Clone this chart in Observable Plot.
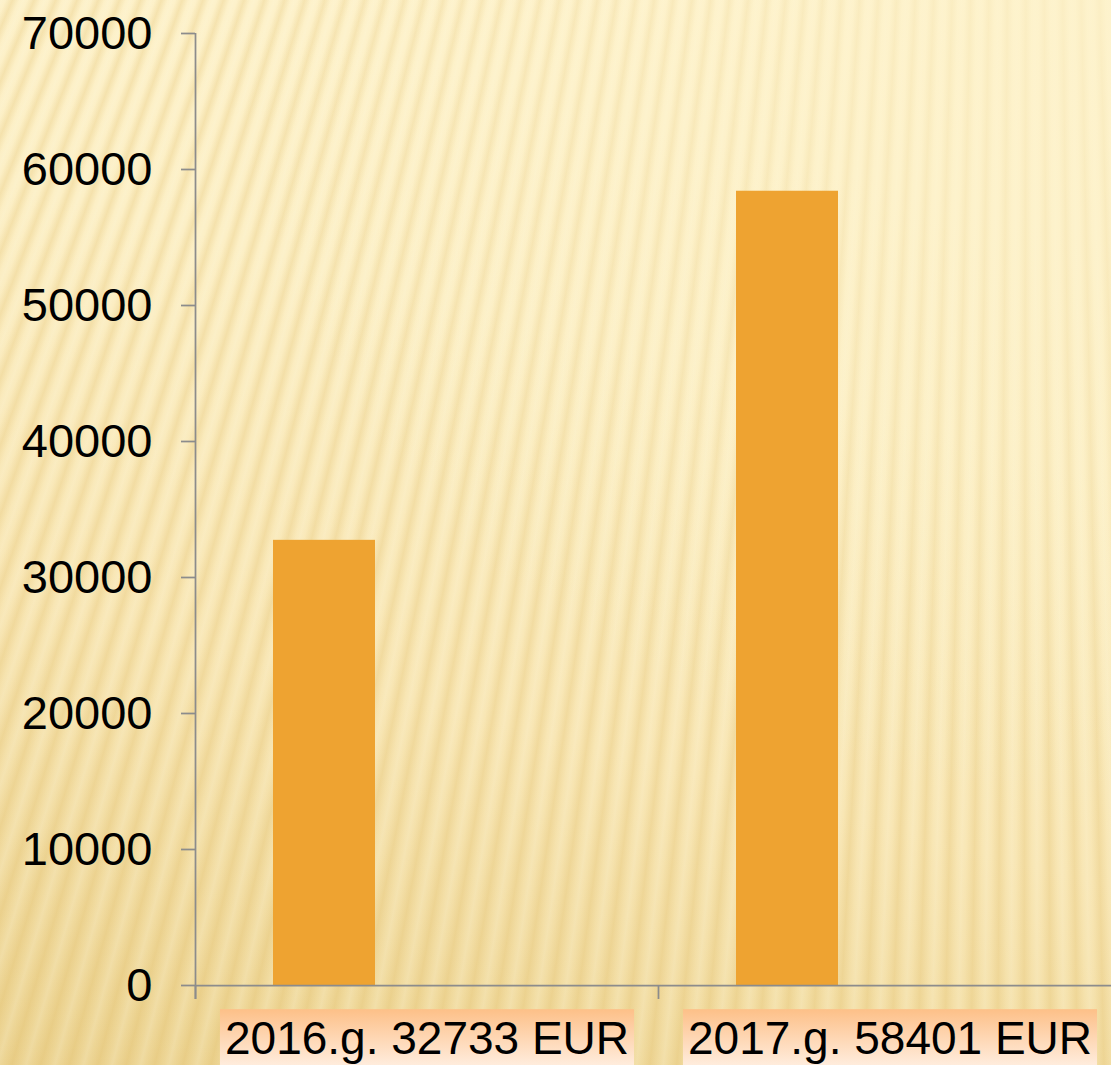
<!DOCTYPE html>
<html><head><meta charset="utf-8">
<script src="https://cdn.jsdelivr.net/npm/d3@7"></script>
<script src="https://cdn.jsdelivr.net/npm/@observablehq/plot@0.6"></script>
<style>
html,body{margin:0;padding:0;width:1111px;height:1065px;overflow:hidden;}
body{
  background:
    radial-gradient(ellipse 900px 800px at 100% 0%, rgba(253,242,203,0.75) 0%, rgba(253,242,203,0) 100%),
    repeating-conic-gradient(from 0deg at 1030px -2400px,
      rgba(214,170,70,0) 0deg,
      rgba(214,170,70,0.2) 0.14deg,
      rgba(214,170,70,0) 0.28deg,
      rgba(255,252,235,0.14) 0.36deg,
      rgba(214,170,70,0) 0.44deg),
    linear-gradient(195deg, #fef3cd 0%, #fcefc5 35%, #f8e6b4 65%, #ecd493 100%);
}
#chart svg{display:block;max-width:none !important;}
</style></head>
<body><div id="chart"></div>
<script>
const categories = ["2016.g. 32733 EUR", "2017.g. 58401 EUR"];
const values = [32733, 58401];
const yTicks = [0, 10000, 20000, 30000, 40000, 50000, 60000, 70000];

const data = categories.map((c, i) => ({category: c, value: values[i]}));

const W = 1121, ML = 195;
const step = (W - ML) / categories.length;
const axisGray = "#8c8c8c";

const chart = Plot.plot({
  width: W, height: 1065,
  marginLeft: ML, marginRight: 0, marginTop: 33, marginBottom: 80,
  style: {background: "transparent", fontFamily: "'Liberation Sans', Arial, sans-serif", color: "#000", overflow: "visible", maxWidth: "none"},
  x: {domain: categories, padding: 0, label: null},
  y: {domain: [0, 70000], label: null},
  marks: [
    Plot.barY(data, {x: "category", y: "value", fill: "#eea331", insetLeft: 78, insetRight: 283}),
    Plot.ruleY([0], {stroke: axisGray, strokeWidth: 1.75}),
    Plot.ruleX(categories.slice(0, 1), {x: d => d, dx: -step / 2, stroke: axisGray, strokeWidth: 1.75, insetBottom: -14}),
    Plot.axisX({tickSize: 14, tickFormat: () => "", dx: -step / 2, stroke: axisGray, strokeWidth: 1.75}),
    Plot.axisX({tickSize: 0, tickPadding: 36, fontSize: 46, fill: "#000"}),
    Plot.axisY({ticks: yTicks, tickSize: 14, tickPadding: 29, fontSize: 47, fill: "#000", stroke: axisGray, strokeWidth: 1.75, tickFormat: d => String(d)})
  ]
});
document.getElementById("chart").appendChild(chart);

// peach label boxes behind the category labels
const svg = d3.select(chart);
const defs = svg.insert("defs", ":first-child");
const grad = defs.append("linearGradient").attr("id", "peach")
  .attr("gradientUnits", "objectBoundingBox")
  .attr("x1", 0).attr("y1", 0).attr("x2", 0).attr("y2", 1);
grad.append("stop").attr("offset", "0%").attr("stop-color", "#fdc088");
grad.append("stop").attr("offset", "100%").attr("stop-color", "#fff1e6");
svg.selectAll("text").each(function() {
  const t = this.textContent;
  if (!categories.includes(t)) return;
  const b = this.getBBox();
  d3.select(this.parentNode).insert("rect", () => this)
    .attr("x", b.x - 5).attr("y", b.y - 3)
    .attr("width", b.width + 10).attr("height", b.height + 10)
    .attr("fill", "url(#peach)")
    .attr("transform", this.getAttribute("transform"));
});
</script>
</body></html>
